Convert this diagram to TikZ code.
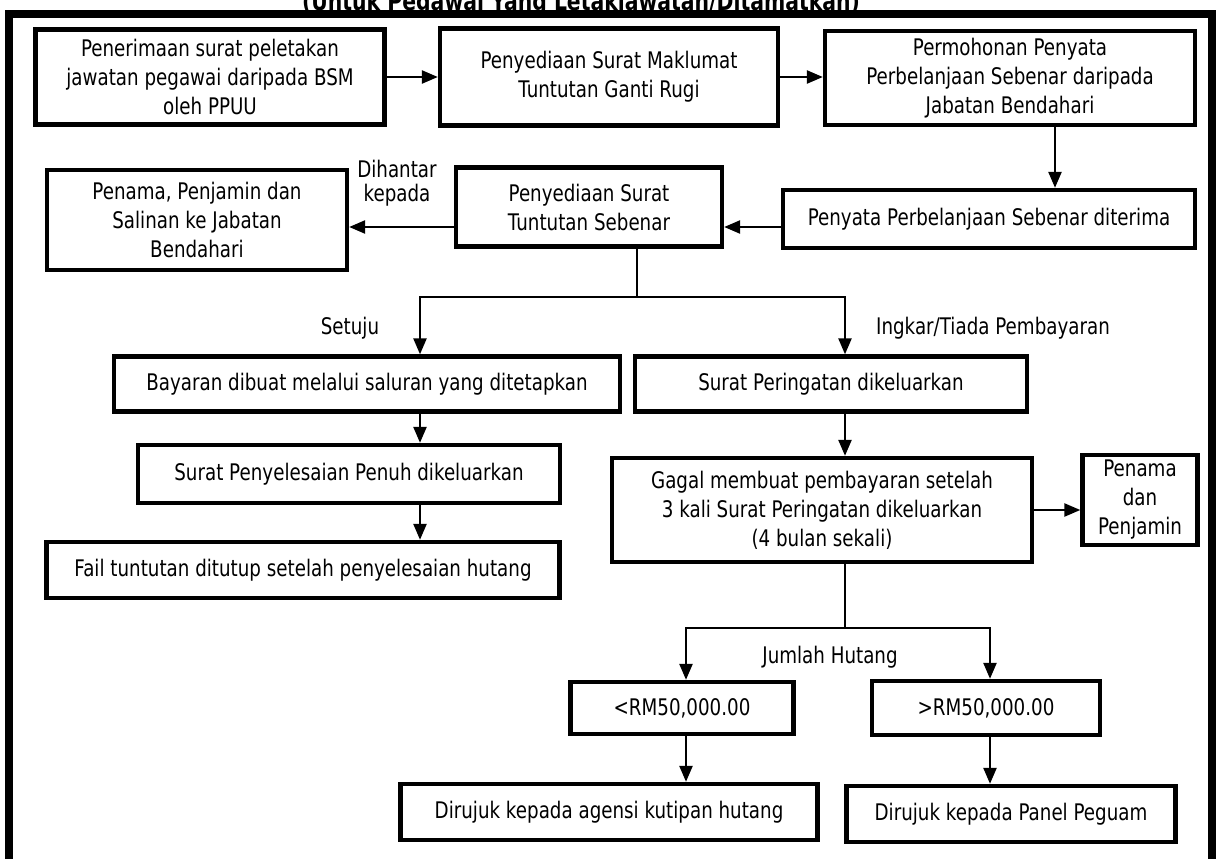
\documentclass[tikz,border=0pt]{standalone}
\usepackage{fontspec}
\setmainfont{DejaVu Sans}[FakeStretch=0.8]
\usetikzlibrary{arrows.meta}
\begin{document}
\begin{tikzpicture}[x=0.02cm, y=-0.02cm,
  box/.style={draw, line width=2.6pt, align=center, inner sep=2pt,
    font=\fontsize{13}{16.5}\selectfont},
  arr/.style={line width=0.9pt, -{Triangle[length=9pt, width=7.5pt]}},
  lbl/.style={align=center, font=\fontsize{13}{13.5}\selectfont}]
  \useasboundingbox (0,0) rectangle (1221,859);
  \clip (0,0) rectangle (1221,859);
  % frame and title
  \node[anchor=base, font=\bfseries\fontsize{14.5}{16}\selectfont] (title) at (581,10) {(Untuk Pegawai Yang Letakjawatan/Ditamatkan)};
  \draw[line width=4.5pt] (9,900) -- (9,14) -- (1212,14) -- (1212,900);
  % first row
  \node[box, minimum width=6.98cm, minimum height=1.90cm] (A) at (210,77) {Penerimaan surat peletakan\\jawatan pegawai daripada BSM\\oleh PPUU};
  \node[box, minimum width=6.76cm, minimum height=1.94cm] (B) at (609,77) {Penyediaan Surat Maklumat\\Tuntutan Ganti Rugi};
  \node[box, minimum width=7.40cm, minimum height=1.88cm] (C) at (1010,78) {Permohonan Penyata\\Perbelanjaan Sebenar daripada\\Jabatan Bendahari};
  % second row
  \node[box, minimum width=8.24cm, minimum height=1.16cm] (D) at (989,219) {Penyata Perbelanjaan Sebenar diterima};
  \node[box, minimum width=5.32cm, minimum height=1.58cm] (E) at (589,207) {Penyediaan Surat\\Tuntutan Sebenar};
  \node[box, minimum width=6.00cm, minimum height=2.00cm] (F) at (197,220) {Penama, Penjamin dan\\Salinan ke Jabatan\\Bendahari};
  \node[lbl] (hantar) at (397,183) {Dihantar\\kepada};
  % left branch
  \node[box, minimum width=10.12cm, minimum height=1.10cm] (G) at (367,384) {Bayaran dibuat melalui saluran yang ditetapkan};
  \node[box, minimum width=8.44cm, minimum height=1.16cm] (I) at (349,474) {Surat Penyelesaian Penuh dikeluarkan};
  \node[box, minimum width=10.26cm, minimum height=1.12cm] (J) at (303,570) {Fail tuntutan ditutup setelah penyelesaian hutang};
  % right branch
  \node[box, minimum width=7.84cm, minimum height=1.10cm] (H) at (831,384) {Surat Peringatan dikeluarkan};
  \node[box, minimum width=8.40cm, minimum height=2.08cm] (K) at (822,510) {Gagal membuat pembayaran setelah\\3 kali Surat Peringatan dikeluarkan\\(4 bulan sekali)};
  \node[box, minimum width=2.30cm, minimum height=1.80cm] (L) at (1140,500) {Penama\\dan\\Penjamin};
  \node[box, minimum width=4.46cm, minimum height=1.04cm] (M) at (682,708) {<RM50,000.00};
  \node[box, minimum width=4.56cm, minimum height=1.08cm] (N) at (986,708) {>RM50,000.00};
  \node[box, minimum width=8.34cm, minimum height=1.12cm] (O) at (609,812) {Dirujuk kepada agensi kutipan hutang};
  \node[box, minimum width=6.58cm, minimum height=1.12cm] (P) at (1011,814) {Dirujuk kepada Panel Peguam};
  \node[lbl] (setuju) at (350,328) {Setuju};
  \node[lbl] (ingkar) at (993,328) {Ingkar/Tiada Pembayaran};
  \node[lbl] (jumlah) at (830,657) {Jumlah Hutang};
  % branch points
  \coordinate (cd) at (1055,125);
  \coordinate (ry) at (0,227);
  \coordinate (bs) at (637,297);
  \coordinate (bl) at (420,297);
  \coordinate (br) at (845,297);
  \coordinate (js) at (845,628);
  \coordinate (jl) at (686,628);
  \coordinate (jr) at (990,628);
  % connectors
  \draw[arr] (A.east) -- (A.east -| B.west);
  \draw[arr] (B.east) -- (B.east -| C.west);
  \draw[arr] (cd) -- (cd |- D.north);
  \draw[arr] (D.west |- ry) -- (E.east |- ry);
  \draw[arr] (E.west |- ry) -- (F.east |- ry);
  \draw[line width=0.7pt] (E.south -| bs) -- (bs);
  \draw[arr] (bs) -- (bl) -- (bl |- G.north);
  \draw[arr] (bs) -- (br) -- (br |- H.north);
  \draw[arr] (bl |- G.south) -- (bl |- I.north);
  \draw[arr] (bl |- I.south) -- (bl |- J.north);
  \draw[arr] (br |- H.south) -- (br |- K.north);
  \draw[arr] (K.east) -- (K.east -| L.west);
  \draw[line width=0.7pt] (js |- K.south) -- (js);
  \draw[arr] (js) -- (jl) -- (jl |- M.north);
  \draw[arr] (js) -- (jr) -- (jr |- N.north);
  \draw[arr] (jl |- M.south) -- (jl |- O.north);
  \draw[arr] (jr |- N.south) -- (jr |- P.north);
\end{tikzpicture}
\end{document}
